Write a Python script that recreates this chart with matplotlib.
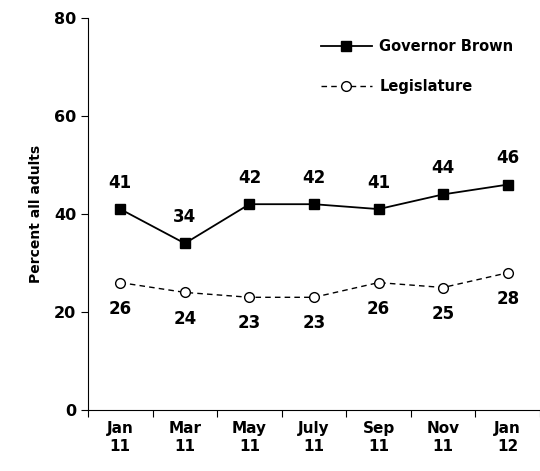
import matplotlib.pyplot as plt

months = ['Jan\n11', 'Mar\n11', 'May\n11', 'July\n11', 'Sep\n11', 'Nov\n11', 'Jan\n12']
brown = [41, 34, 42, 42, 41, 44, 46]
legis = [26, 24, 23, 23, 26, 25, 28]

plt.rcParams['font.family'] = 'DejaVu Sans'
plt.rcParams['font.weight'] = 'bold'

fig = plt.figure(figsize=(5.4, 4.71), dpi=100)
ax = fig.add_axes([88/540, 1-410/471, 452/540, 392/471])
x = list(range(len(months)))

ax.plot(x, brown, color='black', marker='s', markersize=7, linewidth=1.3, label='Governor Brown')
ax.plot(x, legis, color='black', linestyle=(0, (4, 3)), marker='o', markersize=7,
        markerfacecolor='white', linewidth=1, label='Legislature')

for i in x:
    ax.text(i, brown[i] + 3.5, str(brown[i]), ha='center', va='bottom', fontsize=12, fontweight='bold')
    ax.text(i, legis[i] - 3.5, str(legis[i]), ha='center', va='top', fontsize=12, fontweight='bold')

ax.set_xlim(-0.5, 6.5)
ax.set_ylim(0, 80)
ax.set_yticks([0, 20, 40, 60, 80])
ax.set_xticks([i - 0.5 for i in range(8)], minor=False)
ax.set_xticklabels([])
ax.set_xticks(x, minor=True)
ax.set_xticklabels(months, minor=True, fontsize=11, fontweight='bold')
ax.tick_params(axis='x', which='minor', length=0, pad=8)
ax.tick_params(axis='x', which='major', length=5, direction='out')
ax.tick_params(axis='y', labelsize=11.5, length=5)
ax.spines['top'].set_visible(False)
ax.spines['right'].set_visible(False)
ax.set_ylabel('Percent all adults', fontsize=10, fontweight='bold', labelpad=8)

ax.legend(loc='upper right', frameon=False, fontsize=10.5, handlelength=3.5,
          bbox_to_anchor=(0.97, 0.98), labelspacing=1.7, handletextpad=0.5)

fig.savefig('out.png', dpi=100)
